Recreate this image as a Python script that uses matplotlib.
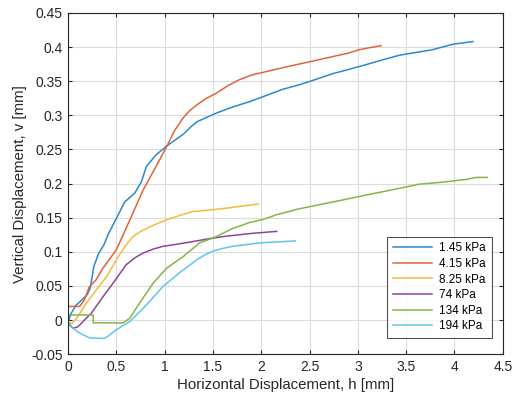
import matplotlib
matplotlib.use("Agg")
import matplotlib.pyplot as plt

plt.rcParams['font.family'] = ['Liberation Sans', 'DejaVu Sans']

labels = ['1.45 kPa', '4.15 kPa', '8.25 kPa', '74 kPa', '134 kPa', '194 kPa']
colors = ['#2b88cf', '#e0643a', '#f0bc3c', '#8d449c', '#85b545', '#5fc5f0']

h_145 = [0, 0.025, 0.077, 0.145, 0.196, 0.23, 0.265, 0.317, 0.37, 0.42, 0.5, 0.586, 0.69,
         0.76, 0.81, 0.91, 1.03, 1.1, 1.19, 1.27, 1.34, 1.42, 1.53, 1.7, 1.88, 2.05, 2.22,
         2.4, 2.53, 2.74, 2.9, 3.08, 3.25, 3.43, 3.6, 3.77, 3.98, 4.19]
v_145 = [-0.005, 0.008, 0.021, 0.03, 0.037, 0.047, 0.078, 0.098, 0.11, 0.127, 0.149, 0.173,
         0.186, 0.203, 0.225, 0.242, 0.256, 0.263, 0.272, 0.283, 0.291, 0.296, 0.303, 0.312,
         0.32, 0.329, 0.338, 0.345, 0.351, 0.361, 0.367, 0.374, 0.381, 0.388, 0.392, 0.396,
         0.404, 0.408]

h_415 = [0, 0, 0.12, 0.17, 0.22, 0.29, 0.36, 0.5, 0.64, 0.775, 0.91, 1.02, 1.1, 1.19, 1.26,
         1.33, 1.42, 1.53, 1.65, 1.77, 1.9, 2.05, 2.2, 2.39, 2.55, 2.74, 2.9, 3.01, 3.12, 3.24]
v_415 = [0.0, 0.02, 0.02, 0.03, 0.049, 0.059, 0.076, 0.103, 0.147, 0.19, 0.225, 0.254, 0.277,
         0.296, 0.307, 0.315, 0.324, 0.332, 0.343, 0.352, 0.359, 0.364, 0.369, 0.375, 0.38,
         0.386, 0.391, 0.396, 0.399, 0.402]

h_825 = [0, 0.01, 0.04, 0.09, 0.19, 0.29, 0.4, 0.52, 0.6, 0.67, 0.74, 0.81, 0.9, 1.02, 1.15,
         1.29, 1.45, 1.64, 1.8, 1.97]
v_825 = [0, -0.004, -0.005, 0.003, 0.025, 0.044, 0.064, 0.093, 0.11, 0.122, 0.129, 0.134,
         0.14, 0.147, 0.153, 0.159, 0.161, 0.164, 0.167, 0.17]

h_74 = [0, 0.05, 0.1, 0.155, 0.24, 0.36, 0.465, 0.6, 0.7, 0.775, 0.88, 0.98, 1.12, 1.29,
        1.45, 1.64, 1.9, 2.16]
v_74 = [-0.005, -0.012, -0.01, -0.002, 0.01, 0.034, 0.054, 0.081, 0.092, 0.098, 0.104,
        0.108, 0.111, 0.115, 0.119, 0.123, 0.127, 0.13]

h_134 = [0, 0, 0.26, 0.26, 0.57, 0.64, 0.74, 0.88, 1.02, 1.19, 1.36, 1.53, 1.7, 1.88, 2.01,
         2.15, 2.39, 2.74, 3.08, 3.43, 3.63, 3.87, 4.12, 4.22, 4.34]
v_134 = [0.0, 0.0075, 0.0075, -0.004, -0.004, 0.003, 0.025, 0.054, 0.076, 0.093, 0.113,
         0.122, 0.134, 0.143, 0.147, 0.154, 0.163, 0.173, 0.183, 0.193, 0.199, 0.202, 0.206,
         0.209, 0.209]

h_194 = [0, 0.05, 0.12, 0.22, 0.36, 0.4, 0.5, 0.64, 0.81, 0.98, 1.15, 1.33, 1.42, 1.5, 1.6,
         1.7, 1.98, 2.35]
v_194 = [-0.002, -0.012, -0.019, -0.026, -0.027, -0.025, -0.014, -0.002, 0.022, 0.049,
         0.069, 0.088, 0.096, 0.101, 0.105, 0.108, 0.113, 0.116]

series = [(h_145, v_145), (h_415, v_415), (h_825, v_825),
          (h_74, v_74), (h_134, v_134), (h_194, v_194)]

fig = plt.figure(figsize=(5.12, 4.03), dpi=100)
ax = fig.add_axes([0.133, 0.121, 0.849, 0.847])

for (h, v), c, lab in zip(series, colors, labels):
    ax.plot(h, v, color=c, lw=1.1, label=lab)

ax.set_xlim(0, 4.5)
ax.set_ylim(-0.05, 0.45)
ax.set_xticks([0, 0.5, 1, 1.5, 2, 2.5, 3, 3.5, 4, 4.5])
ax.set_xticklabels(['0', '0.5', '1', '1.5', '2', '2.5', '3', '3.5', '4', '4.5'])
ax.set_yticks([-0.05, 0, 0.05, 0.1, 0.15, 0.2, 0.25, 0.3, 0.35, 0.4, 0.45])
ax.set_yticklabels(['-0.05', '0', '0.05', '0.1', '0.15', '0.2', '0.25', '0.3', '0.35',
                    '0.4', '0.45'])
ax.grid(True, color='#dcdcdc', lw=0.8)
ax.set_axisbelow(True)
ax.tick_params(direction='in', top=True, right=True, labelsize=10, length=3, pad=4,
               color='#262626', labelcolor='#262626')
for s in ax.spines.values():
    s.set_color('#262626')
    s.set_linewidth(0.8)

ax.set_xlabel('Horizontal Displacement, h [mm]', fontsize=10.8, color='#262626', labelpad=3)
ax.set_ylabel('Vertical Displacement, v [mm]', fontsize=10.8, color='#262626', labelpad=3)

leg = ax.legend(loc='lower right', bbox_to_anchor=(0.988, 0.03), fontsize=8.5,
                frameon=True, fancybox=False, handlelength=3.3, labelspacing=0.3,
                borderpad=0.5, handletextpad=0.6)
leg.get_frame().set_edgecolor('#262626')
leg.get_frame().set_linewidth(0.8)

fig.savefig('out.png', dpi=100)
